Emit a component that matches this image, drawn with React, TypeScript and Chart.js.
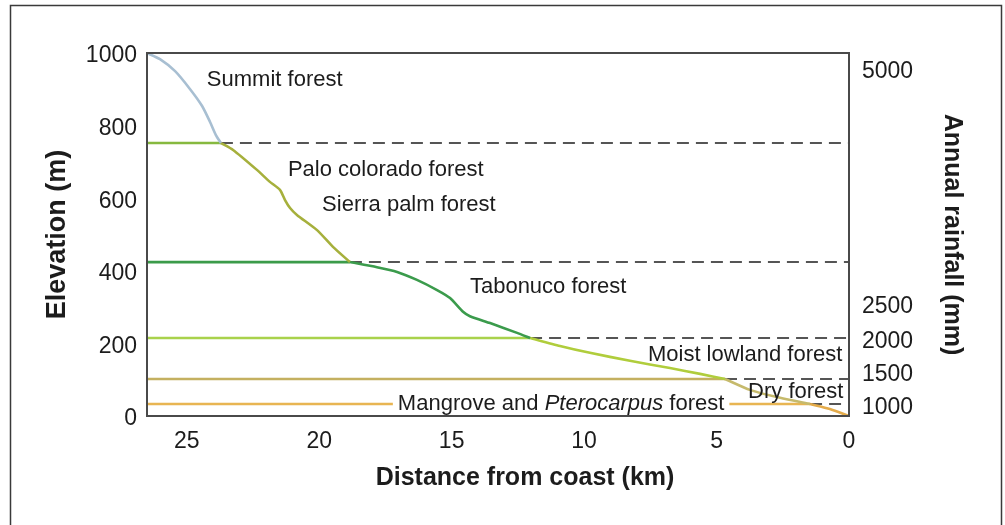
import React, { useEffect, useRef } from 'react';
import { Chart, registerables } from 'chart.js';

Chart.register(...registerables);

// ---- Data (distance from coast in km, elevation in m) ----
const xTickValues = [0, 5, 10, 15, 20, 25];
const yTickValues = [0, 200, 400, 600, 800, 1000];

const summitKm = [26.5, 26.01, 25.44, 24.88, 24.42, 24.12, 23.9, 23.71];
const summitElev = [1000, 983, 950, 901, 854, 810, 774, 752];

const paloKm = [23.71, 23.25, 22.35, 21.86, 21.48, 21.29, 21.1, 20.84, 20.08, 19.48, 18.84];
const paloElev = [752, 733, 678, 645, 623, 595, 573, 554, 512, 466, 424];

const tabonucoKm = [18.84, 17.82, 17.06, 16.31, 15.55, 15.06, 14.57, 14.31, 13.55, 12.53, 12.04];
const tabonucoElev = [424, 410, 397, 375, 347, 325, 287, 275, 256, 229, 215];

const moistKm = [12.04, 10.91, 9.78, 8.27, 6.76, 5.62, 4.68];
const moistElev = [215, 193, 174, 152, 132, 116, 102];

const dryKm = [4.68, 3.74, 2.6, 1.47];
const dryElev = [102, 72, 50, 33];

const mangroveKm = [1.47, 0.72, 0];
const mangroveElev = [33, 19, 0];

// forest-zone boundaries: elevation and where they meet the profile
const boundaryElev = [752, 424, 215, 102, 33];
const boundaryEndKm = [23.71, 18.84, 12.04, 4.68, 1.47];

// right axis: rainfall labels and the elevation each is printed beside
const rainfallLabels = ['1000', '1500', '2000', '2500', '5000'];
const rainfallTickElev = [22, 113, 204, 300, 948];

// zone labels (anchor = left edge, in km / m)
const forestNames = [
  'Summit forest',
  'Palo colorado forest',
  'Sierra palm forest',
  'Tabonuco forest',
  'Moist lowland forest',
  'Dry forest',
];
const forestLabelKm = [24.24, 21.18, 19.89, 14.31, 7.59, 3.81];
const forestLabelElev = [926, 678, 581, 355, 168, 66];
const mangroveLabelKm = 17.03;
const mangroveLabelElev = 33;

// ---- Styling ----
const W = 1005;
const H = 525;
const X_MAX = 26.5;
const FONT = '"Liberation Sans", Arial, Helvetica, sans-serif';
const TEXT = '#1c1c1c';
const curveColors = ['#a8bfd2', '#a6b03c', '#3b9b4c', '#b0cd3c', '#c6ba6c', '#e4ab4a'];
const boundaryColors = ['#86b93f', '#3b9b4a', '#a9d24c', '#c4b060', '#e8b552'];

const pts = (xs: number[], ys: number[]) => xs.map((x, i) => ({ x, y: ys[i] }));

export default function App() {
  const ref = useRef<HTMLCanvasElement>(null);

  useEffect(() => {
    document.body.style.margin = '0';
    const canvas = ref.current!;
    const base = { showLine: true, pointRadius: 0, pointHoverRadius: 0, fill: false };

    const curves = [
      [summitKm, summitElev],
      [paloKm, paloElev],
      [tabonucoKm, tabonucoElev],
      [moistKm, moistElev],
      [dryKm, dryElev],
      [mangroveKm, mangroveElev],
    ];
    const datasets: any[] = [];
    curves.forEach(([xs, ys], i) => {
      datasets.push({
        ...base,
        data: pts(xs as number[], ys as number[]),
        borderColor: curveColors[i],
        borderWidth: 2.6,
        tension: 0.2,
        yAxisID: 'y',
      });
    });
    boundaryElev.forEach((e, i) => {
      datasets.push({
        ...base,
        data: [
          { x: boundaryEndKm[i], y: e },
          { x: 0, y: e },
        ],
        borderColor: '#1e1e1e',
        borderWidth: 1.5,
        borderDash: [12, 7],
        yAxisID: 'y',
      });
      datasets.push({
        ...base,
        data: [
          { x: X_MAX, y: e },
          { x: boundaryEndKm[i], y: e },
        ],
        borderColor: boundaryColors[i],
        borderWidth: 2.6,
        yAxisID: 'y',
      });
    });

    const decor = {
      id: 'decor',
      beforeDraw(chart: any) {
        const ctx = chart.ctx;
        ctx.save();
        ctx.fillStyle = '#ffffff';
        ctx.fillRect(0, 0, chart.width, chart.height);
        ctx.restore();
      },
      afterDatasetsDraw(chart: any) {
        const ctx = chart.ctx;
        const xs = chart.scales.x;
        const ys = chart.scales.y;
        const a = chart.chartArea;
        ctx.save();
        ctx.fillStyle = TEXT;
        ctx.textBaseline = 'middle';
        ctx.textAlign = 'left';
        const normal = `22px ${FONT}`;
        const italic = `italic 22px ${FONT}`;
        ctx.font = normal;
        forestNames.forEach((n, i) => {
          ctx.fillText(n, xs.getPixelForValue(forestLabelKm[i]), ys.getPixelForValue(forestLabelElev[i]));
        });
        // Mangrove and Pterocarpus forest (mixed style)
        const parts: [string, string][] = [
          ['Mangrove and ', normal],
          ['Pterocarpus', italic],
          [' forest', normal],
        ];
        let mx = xs.getPixelForValue(mangroveLabelKm);
        const my = ys.getPixelForValue(mangroveLabelElev);
        let total = 0;
        parts.forEach(([t, f]) => {
          ctx.font = f;
          total += ctx.measureText(t).width;
        });
        ctx.fillStyle = '#ffffff';
        ctx.fillRect(mx - 5, my - 8, total + 10, 16);
        ctx.fillStyle = TEXT;
        parts.forEach(([t, f]) => {
          ctx.font = f;
          ctx.fillText(t, mx, my);
          mx += ctx.measureText(t).width;
        });
        // x-axis title (centred as in the original figure)
        ctx.font = `bold 25px ${FONT}`;
        ctx.textAlign = 'center';
        ctx.fillText('Distance from coast (km)', 525, 478);
        // plot frame
        ctx.strokeStyle = '#4a4a4a';
        ctx.lineWidth = 2;
        ctx.strokeRect(a.left, a.top, a.right - a.left, a.bottom - a.top);
        // outer frame
        ctx.strokeStyle = '#3a3a3a';
        ctx.lineWidth = 1.5;
        ctx.strokeRect(10.5, 5.5, 991, 600);
        ctx.restore();
      },
    };

    const tickFont = { family: FONT, size: 23 };

    const chart = new Chart(canvas, {
      type: 'scatter',
      data: { datasets },
      plugins: [decor],
      options: {
        responsive: false,
        animation: false,
        layout: { padding: { top: 53, left: 0, right: 0, bottom: 0 } },
        plugins: { legend: { display: false }, tooltip: { enabled: false } },
        events: [],
        scales: {
          x: {
            type: 'linear',
            reverse: true,
            min: 0,
            max: X_MAX,
            grid: { display: false, drawTicks: false },
            border: { display: false },
            afterBuildTicks: (s: any) => {
              s.ticks = xTickValues.map((v) => ({ value: v }));
            },
            afterFit: (s: any) => {
              s.height = H - 416;
            },
            ticks: { font: tickFont, color: TEXT, padding: 12, maxRotation: 0 },
            title: { display: false },
          },
          y: {
            type: 'linear',
            position: 'left',
            min: 0,
            max: 1000,
            grid: { display: false, drawTicks: false },
            border: { display: false },
            afterBuildTicks: (s: any) => {
              s.ticks = yTickValues.map((v) => ({ value: v }));
            },
            afterFit: (s: any) => {
              s.width = 147;
            },
            ticks: {
              font: tickFont,
              color: TEXT,
              padding: 10,
              labelOffset: 3,
              callback: (v: any) => String(v),
            },
            title: {
              display: true,
              text: 'Elevation (m)',
              font: { family: FONT, size: 27, weight: 'bold', lineHeight: 1.2 },
              color: TEXT,
              padding: { top: 41, bottom: 0 },
            },
          },
          yR: {
            type: 'linear',
            position: 'right',
            min: 0,
            max: 1000,
            grid: { display: false, drawTicks: false },
            border: { display: false },
            afterBuildTicks: (s: any) => {
              s.ticks = rainfallTickElev.map((v) => ({ value: v }));
            },
            afterFit: (s: any) => {
              s.width = W - 849;
            },
            ticks: {
              font: tickFont,
              color: TEXT,
              padding: 13,
              callback: (_v: any, i: number) => rainfallLabels[i],
            },
            title: {
              display: true,
              text: 'Annual rainfall (mm)',
              font: { family: FONT, size: 25, weight: 'bold', lineHeight: 1.2 },
              color: TEXT,
              padding: { top: 38, bottom: 0 },
            },
          },
        },
      },
    });
    return () => chart.destroy();
  }, []);

  return (
    <div style={{ position: 'fixed', left: 0, top: 0, width: W, height: H, background: '#fff' }}>
      <canvas ref={ref} width={W} height={H} style={{ display: 'block', width: W, height: H }} />
    </div>
  );
}
